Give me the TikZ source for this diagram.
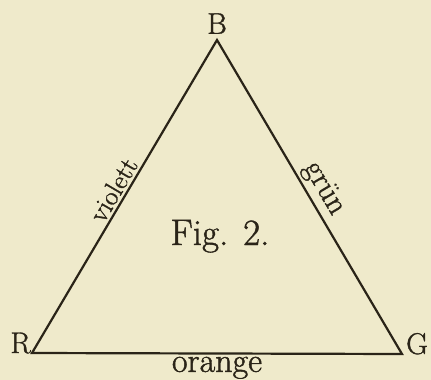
\documentclass[tikz,border=0pt]{standalone}
\usepackage{fontspec}
\newfontfamily\inkfont[FakeBold=1.2]{Latin Modern Roman}
\usepackage{xcolor}
\usepackage{tikz}
\usetikzlibrary{positioning,calc}
\definecolor{PaperCream}{HTML}{EFEACB}
\definecolor{InkDark}{HTML}{2A2418}

\begin{document}
\begin{tikzpicture}[
  x=1pt,y=-1pt,
  edge/.style={draw=InkDark,line width=2.2pt,line join=miter},
  vlabel/.style={text=InkDark,font=\inkfont\fontsize{30}{30}\selectfont,inner sep=0pt},
  elabel/.style={text=InkDark,font=\inkfont\fontsize{27}{27}\selectfont,inner sep=2.5pt},
  title/.style={text=InkDark,font=\inkfont\fontsize{37}{37}\selectfont,inner sep=0pt}
]
\fill[PaperCream] (0,0) rectangle (431,380);
\useasboundingbox (0,0) rectangle (431,380);
% corners of the triangle
\coordinate (B) at (217,40);
\coordinate (R) at (32,353);
\coordinate (G) at (402,354);
% vertex letters
\node[vlabel,above=6pt of B] (labB) {B};
\node[vlabel,anchor=base east] (labR) at ($(R)+(-1,0)$) {R};
\node[vlabel,anchor=base west] (labG) at ($(G)+(4,0)$) {G};
% sides with colour names
\draw[edge] (R) -- node[elabel,midway,sloped,above] (violett) {violett} (B)
  -- node[elabel,font=\inkfont\fontsize{31}{31}\selectfont,midway,sloped,above] (gruen) {grün} (G)
  -- coordinate[midway] (baseMid) cycle;
\node[elabel,font=\inkfont\fontsize{34}{34}\selectfont,inner sep=0pt,below=3pt of baseMid] (orange) {orange};
\node[title,anchor=base] (fig) at (220,245) {Fig. 2.};
\end{tikzpicture}
\end{document}
